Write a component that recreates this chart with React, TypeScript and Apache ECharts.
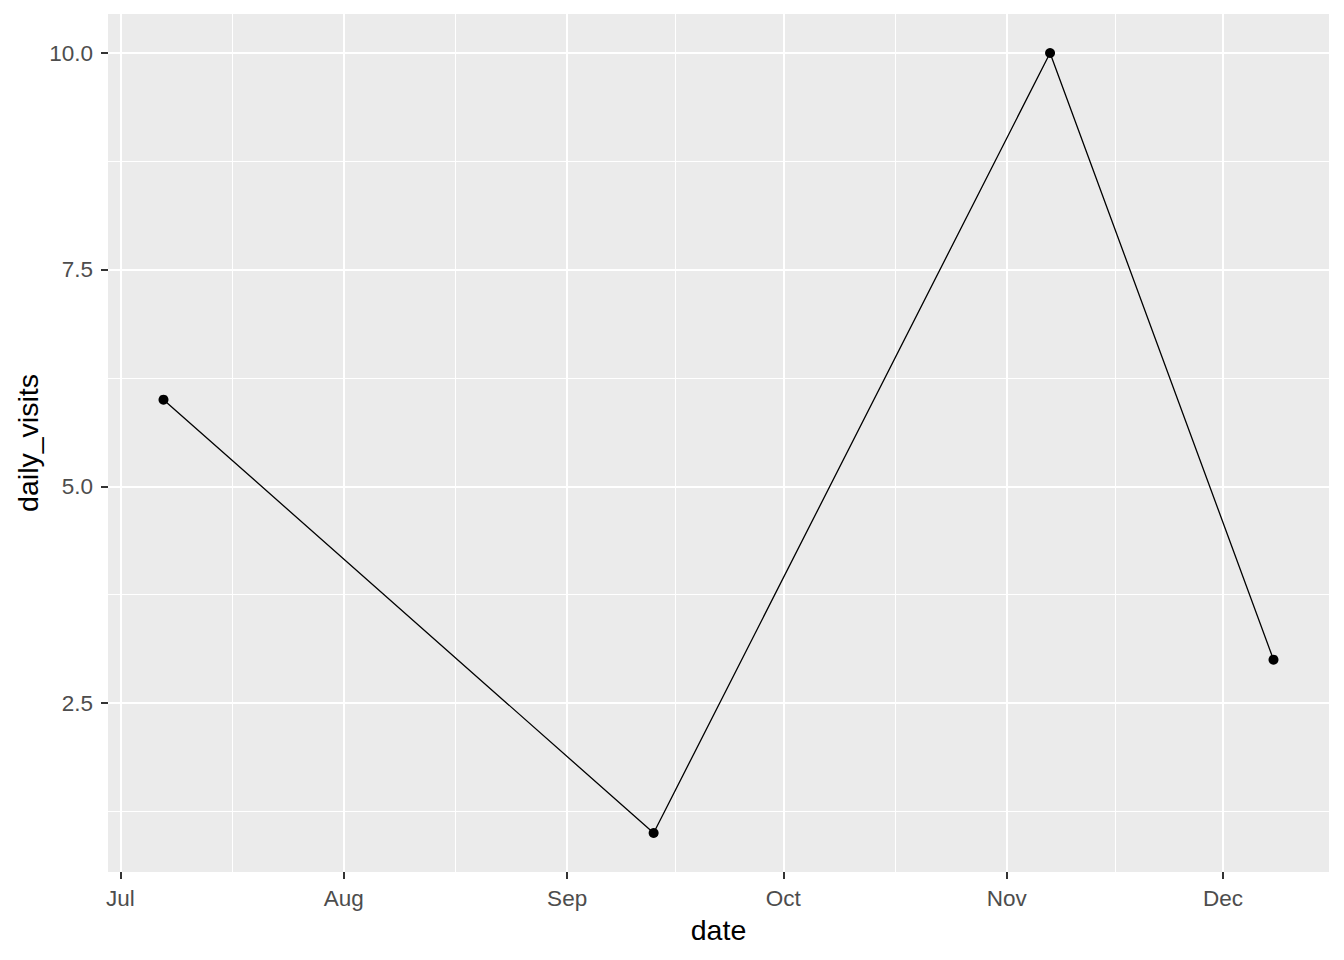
import React, { useEffect, useRef } from "react";
import * as echarts from "echarts";

const dates = ["2023-07-07", "2023-09-13", "2023-11-07", "2023-12-08"];
const dailyVisits = [6, 1, 10, 3];
const monthBreaks = ["2023-07-01", "2023-08-01", "2023-09-01", "2023-10-01", "2023-11-01", "2023-12-01"];
const monthLabels = ["Jul", "Aug", "Sep", "Oct", "Nov", "Dec"];
const yBreaks = [2.5, 5, 7.5, 10];
const yMinorBreaks = [1.25, 3.75, 6.25, 8.75];

const ts = (s: string) => {
  const [y, m, d] = s.split("-").map(Number);
  return Date.UTC(y, m - 1, d);
};

export default function App() {
  const ref = useRef<HTMLDivElement>(null);
  useEffect(() => {
    if (!ref.current) return;
    const chart = echarts.init(ref.current, undefined, { renderer: "svg" });
    const xs = dates.map(ts);
    const xLo = Math.min(...xs);
    const xHi = Math.max(...xs);
    const xPad = (xHi - xLo) * 0.05;
    const xMin = xLo - xPad;
    const xMax = xHi + xPad;
    const yLo = Math.min(...dailyVisits);
    const yHi = Math.max(...dailyVisits);
    const yPad = (yHi - yLo) * 0.05;
    const yMin = yLo - yPad;
    const yMax = yHi + yPad;
    const majorX = monthBreaks.map(ts);
    const minorX: number[] = [];
    for (let i = 0; i < majorX.length - 1; i++) minorX.push((majorX[i] + majorX[i + 1]) / 2);
    const font = "Liberation Sans, Arial, sans-serif";

    chart.setOption({
      animation: false,
      backgroundColor: "#FFFFFF",
      grid: {
        left: 108,
        right: 15,
        top: 14,
        bottom: 88,
        show: true,
        backgroundColor: "#EBEBEB",
        borderWidth: 0,
        containLabel: false,
        outerBoundsMode: "none",
      },
      xAxis: [
        {
          type: "value",
          min: xMin,
          max: xMax,
          scale: true,
          name: "date",
          nameLocation: "middle",
          nameGap: 43,
          nameMoveOverlap: false,
          nameTextStyle: { color: "#000000", fontSize: 28.5, fontFamily: font },
          axisLine: { show: false },
          axisTick: { show: true, length: 7, customValues: majorX, lineStyle: { color: "#333333", width: 2 } },
          axisLabel: {
            show: true,
            customValues: majorX,
            margin: 15,
            color: "#4D4D4D",
            fontSize: 22.5,
            fontFamily: font,
            formatter: (v: number) => {
              const i = majorX.findIndex((m) => Math.abs(m - v) < 1000);
              return i >= 0 ? monthLabels[i] : "";
            },
          },
          splitLine: { show: true, lineStyle: { color: "#FFFFFF", width: 2 } },
        },
        {
          type: "value",
          min: xMin,
          max: xMax,
          scale: true,
          position: "bottom",
          axisLine: { show: false },
          axisTick: { show: false, customValues: minorX },
          axisLabel: { show: false, customValues: minorX },
          splitLine: { show: true, lineStyle: { color: "#FFFFFF", width: 1 } },
        },
      ],
      yAxis: [
        {
          type: "value",
          min: yMin,
          max: yMax,
          name: "daily_visits",
          nameLocation: "middle",
          nameGap: 66,
          nameMoveOverlap: false,
          nameTextStyle: { color: "#000000", fontSize: 28.5, fontFamily: font },
          axisLine: { show: false },
          axisTick: { show: true, length: 7, customValues: yBreaks, lineStyle: { color: "#333333", width: 2 } },
          axisLabel: {
            show: true,
            customValues: yBreaks,
            margin: 15,
            color: "#4D4D4D",
            fontSize: 22.5,
            fontFamily: font,
            formatter: (v: number) => v.toFixed(1),
          },
          splitLine: { show: true, lineStyle: { color: "#FFFFFF", width: 2 } },
        },
        {
          type: "value",
          min: yMin,
          max: yMax,
          position: "left",
          axisLine: { show: false },
          axisTick: { show: false, customValues: yMinorBreaks },
          axisLabel: { show: false, customValues: yMinorBreaks },
          splitLine: { show: true, lineStyle: { color: "#FFFFFF", width: 1 } },
        },
      ],
      series: [
        {
          type: "line",
          xAxisIndex: 0,
          yAxisIndex: 0,
          data: xs.map((x, i) => [x, dailyVisits[i]]),
          symbol: "circle",
          symbolSize: 10,
          showSymbol: true,
          itemStyle: { color: "#000000" },
          lineStyle: { color: "#000000", width: 1.3 },
          silent: true,
        },
      ],
    });
    return () => chart.dispose();
  }, []);
  return (
    <div
      ref={ref}
      style={{ position: "fixed", left: 0, top: 0, width: 1344, height: 960 }}
    />
  );
}
